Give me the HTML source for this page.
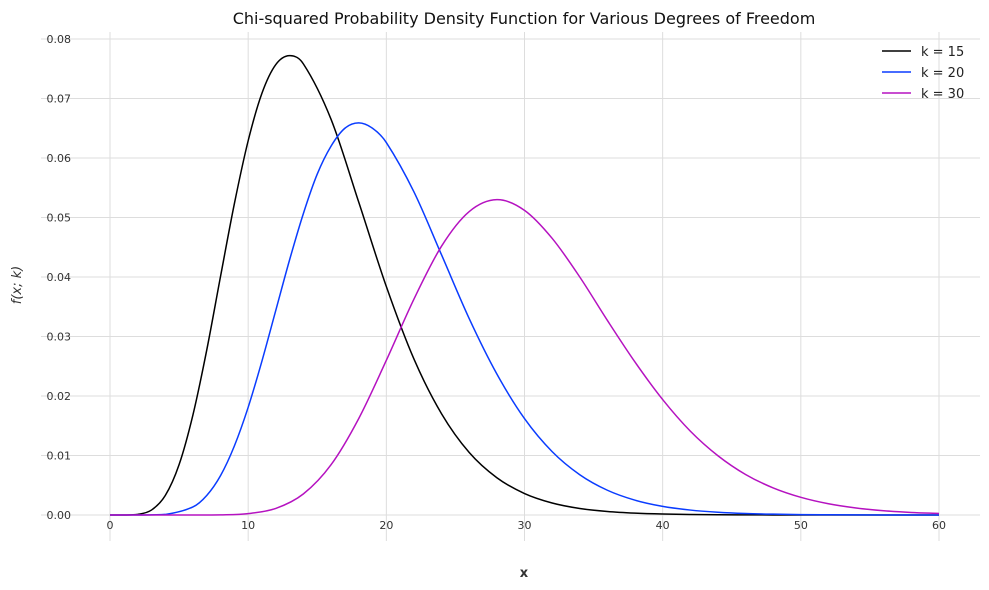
<!DOCTYPE html>
<html><head><meta charset="utf-8"><style>
body{margin:0;background:#fff;}
svg{display:block;font-family:"DejaVu Sans","Liberation Sans",sans-serif;}
</style></head><body>
<svg id="chart" width="989" height="590" viewBox="0 0 989 590" xmlns="http://www.w3.org/2000/svg">
<text x="524" y="24" text-anchor="middle" font-size="16" fill="#111">Chi-squared Probability Density Function for Various Degrees of Freedom</text>
<g id="grid"></g>
<g id="ticks"></g>
<g id="series"></g>
<text x="524" y="577" text-anchor="middle" font-size="13" font-weight="bold" fill="#333">x</text>
<text transform="translate(21,285) rotate(-90)" text-anchor="middle" font-size="13" font-style="italic" fill="#333">f(x; k)</text>
<g id="legend"></g>
</svg>
<script>
const xTicks=[0,10,20,30,40,50,60];
const yTicks=[0,0.01,0.02,0.03,0.04,0.05,0.06,0.07,0.08];
const yTickLabels=["0.00","0.01","0.02","0.03","0.04","0.05","0.06","0.07","0.08"];
const seriesNames=["k = 15","k = 20","k = 30"];
const x15=[0,1,2,3,4,5,6,7,8,9,10,11,12,13,14,16,18,20,22,24,26,28,30,32,34,36,38,40,42,44,46,48,50,55,60];
const y15=[0,0.000002,0.0001,0.00083,0.00327,0.00846,0.0168,0.0277,0.0401,0.0523,0.0629,0.0709,0.0757,0.0772,0.0758,0.0665,0.0526,0.0384,0.0262,0.0170,0.0105,0.00626,0.00361,0.00202,0.00110,0.00059,0.00031,0.000158,0.00008,0.00004,0.00002,0.00001,0.000005,0.000001,0];
const x20=[0,2,4,6,7,8,9,10,11,12,13,14,15,16,17,18,19,20,22,24,26,28,30,32,34,36,38,40,42,44,46,48,50,52,54,56,58,60];
const y20=[0,0.0000005,0.000095,0.00135,0.00328,0.00662,0.0116,0.0181,0.0259,0.0344,0.0429,0.0507,0.0573,0.0620,0.0650,0.0659,0.0650,0.0626,0.0543,0.0437,0.0330,0.0237,0.0162,0.01065,0.00677,0.00416,0.00249,0.00145,0.00083,0.00046,0.00025,0.00014,0.00007,0.00004,0.00002,0.00001,0.000005,0.000002];
const x30=[0,4,6,8,10,12,14,16,18,20,22,24,26,28,30,32,34,36,38,40,42,44,46,48,50,52,54,56,58,60];
const y30=[0,0,0.0000014,0.000028,0.000236,0.00111,0.00355,0.00845,0.0162,0.0260,0.0363,0.0452,0.0510,0.0530,0.0512,0.0465,0.0400,0.0327,0.0257,0.0194,0.0141,0.00996,0.00681,0.00455,0.00297,0.00189,0.00118,0.00072,0.00043,0.00026];
const colors=["#000000","#0a3cff","#b512c0"];

const NS="http://www.w3.org/2000/svg";
const X=v=>110+v*(939-110)/60;
const Y=v=>515-v*(515-39)/0.08;
function mk(tag,attrs,parent){const e=document.createElementNS(NS,tag);for(const k in attrs)e.setAttribute(k,attrs[k]);parent.appendChild(e);return e;}
const grid=document.getElementById('grid'),ticks=document.getElementById('ticks'),ser=document.getElementById('series'),leg=document.getElementById('legend');
xTicks.forEach(t=>{
  const l=mk('line',{x1:X(t),x2:X(t),y1:32,y2:541,stroke:'#dddddd','stroke-width':1},grid);
  
  
  const tx=mk('text',{x:X(t),y:529,'text-anchor':'middle','font-size':11,fill:'#333'},ticks);
  tx.textContent=t;
  
  
});
yTicks.forEach((t,i)=>{
  const l=mk('line',{x1:41,x2:980,y1:Y(t),y2:Y(t),stroke:'#dddddd','stroke-width':1},grid);
  
  
  const tx=mk('text',{x:71,y:Y(t)+4,'text-anchor':'end','font-size':11,fill:'#333'},ticks);
  tx.textContent=yTickLabels[i];
  
  
});
function pathFor(xs,ys){
  const n=xs.length;
  const m=xs.map((x,i)=>{
    const a=Math.max(0,i-1),b=Math.min(n-1,i+1);
    return (ys[b]-ys[a])/(xs[b]-xs[a]);
  });
  let d=`M${X(xs[0])},${Y(ys[0])}`;
  for(let i=0;i<n-1;i++){
    const h=xs[i+1]-xs[i];
    const c1x=xs[i]+h/3,c1y=Math.max(0,ys[i]+m[i]*h/3);
    const c2x=xs[i+1]-h/3,c2y=Math.max(0,ys[i+1]-m[i+1]*h/3);
    d+=` C${X(c1x)},${Y(c1y)} ${X(c2x)},${Y(c2y)} ${X(xs[i+1])},${Y(ys[i+1])}`;
  }
  return d;
}
const data=[[x15,y15],[x20,y20],[x30,y30]];
data.forEach((s,i)=>{
  const pth=mk('path',{d:pathFor(s[0],s[1]),fill:'none',stroke:colors[i],'stroke-width':1.5},ser);
  
  
  const yy=51+i*21;
  const ln=mk('line',{x1:882,x2:911,y1:yy,y2:yy,stroke:colors[i],'stroke-width':1.5},leg);
  
  
  const tx=mk('text',{x:921,y:yy+5,'font-size':13,fill:'#222'},leg);
  tx.textContent=seriesNames[i];
  
  
});
</script>
</body></html>
